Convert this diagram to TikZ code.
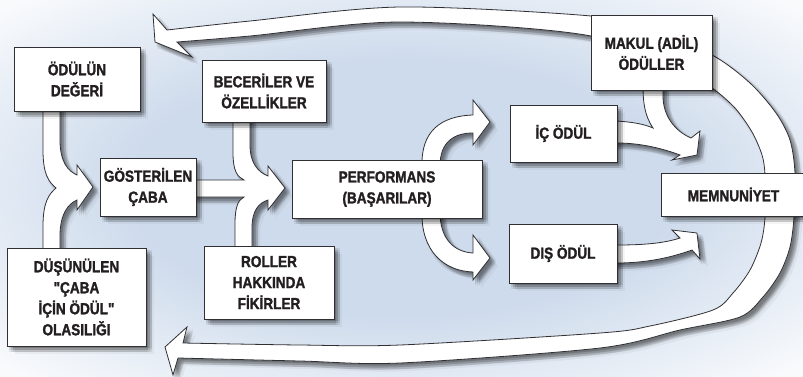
\documentclass[tikz,border=0pt]{standalone}
\usepackage{fontspec}
\newfontfamily\lblfont[FakeStretch=0.85,FakeBold=1.5]{Liberation Sans Bold}
\usetikzlibrary{shadows}
\definecolor{bgblue}{RGB}{206,219,236}
\definecolor{edgecol}{RGB}{48,48,52}
\definecolor{txtcol}{RGB}{35,31,32}
\pgfdeclareradialshading{bgshade}{\pgfpoint{0bp}{0bp}}{color(0bp)=(bgblue); color(17bp)=(bgblue); color(34bp)=(white!85!bgblue); color(50bp)=(white)}
\tikzset{
  softshadow/.style={
    general shadow={fill=black,opacity=.065,shadow xshift=2pt,shadow yshift=-2pt},
    general shadow={fill=black,opacity=.065,shadow xshift=4pt,shadow yshift=-2pt},
    general shadow={fill=black,opacity=.065,shadow xshift=6pt,shadow yshift=-2pt},
    general shadow={fill=black,opacity=.065,shadow xshift=2pt,shadow yshift=-4pt},
    general shadow={fill=black,opacity=.065,shadow xshift=4pt,shadow yshift=-4pt},
    general shadow={fill=black,opacity=.065,shadow xshift=6pt,shadow yshift=-4pt},
    general shadow={fill=black,opacity=.065,shadow xshift=2pt,shadow yshift=-6pt},
    general shadow={fill=black,opacity=.065,shadow xshift=4pt,shadow yshift=-6pt},
    general shadow={fill=black,opacity=.065,shadow xshift=6pt,shadow yshift=-6pt},
    general shadow={fill=black,opacity=.04,shadow xshift=8pt,shadow yshift=-8pt}
  },
  whiteshape/.style={fill=white,draw=edgecol,line width=0.8pt,line join=miter,softshadow},
  labelbox/.style={whiteshape,rectangle,inner sep=0pt,align=center,text=txtcol,
    font=\lblfont\fontsize{16pt}{21pt}\selectfont}
}
\begin{document}
\begin{tikzpicture}[x=1pt,y=-1pt]
\useasboundingbox (0,0) rectangle (803,376);
\clip (0,0) rectangle (803,376);
\shade[shading=bgshade] (0,0) rectangle (803,376);

% big feedback ring
\draw[whiteshape] (167,30) -- (153,14) -- (155,42) -- (192,57) -- (177,42)
  -- plot[smooth,tension=0.5] coordinates {(177,42) (250,36) (400,22) (591,36) (690,78) (712,88) (735,108) (752,132) (762,155) (765,175) (765,217) (761,243) (750,270) (733,293) (713,310) (650,326) (600,333) (400,345) (300,345) (183,343)}
  -- (187,327) -- (165,347) -- (173,375) -- (178,358)
  -- plot[smooth,tension=0.5] coordinates {(178,358) (300,361) (400,363) (600,348) (680,330) (740,317) (763,297) (780,273) (790,247) (794,217) (795,173) (790,140) (776,113) (750,83) (712,55) (650,30) (591,16) (400,7) (250,21) (167,30)}
  -- cycle;

% effort value + probability -> effort
\draw[whiteshape] (43,105) -- (43,150) .. controls (43,175) and (49,182) .. (56,188)
  .. controls (49,194) and (43,202) .. (43,226) -- (43,255) -- (60,255) -- (60,236)
  .. controls (60,214) and (68,204) .. (77,200) -- (77,210) -- (93,187) -- (77,165) -- (77,175)
  .. controls (68,171) and (60,162) .. (60,140) -- (60,105) -- cycle;

% effort + abilities + roles -> performance
\draw[whiteshape] (233,115) -- (233,153) .. controls (233,170) and (237,177) .. (244,180)
  -- (190,180) -- (190,197) -- (244,197) .. controls (238,200) and (235,207) .. (235,224)
  -- (235,252) -- (252,252) -- (252,228) .. controls (252,210) and (259,203) .. (268,200)
  -- (268,210) -- (285,188) -- (268,166) -- (268,176)
  .. controls (258,172) and (250,163) .. (250,145) -- (250,115) -- cycle;

% performance -> intrinsic
\draw[whiteshape] (422,166) .. controls (421,132) and (440,116) .. (473,115)
  -- (473,100) -- (490,122) -- (473,145) -- (473,133)
  .. controls (455,133) and (440,141) .. (440,166) -- cycle;

% performance -> extrinsic
\draw[whiteshape] (422,212) .. controls (421,250) and (443,271) .. (473,272)
  -- (473,280) -- (490,258) -- (473,235) -- (473,253)
  .. controls (455,252) and (440,240) .. (440,212) -- cycle;

% intrinsic + equitable -> satisfaction
\draw[whiteshape] (610,121) -- (617,121) .. controls (632,122) and (644,124) .. (653,128)
  .. controls (645,116) and (643,104) .. (643,85) -- (663,85) -- (663,96)
  .. controls (663,116) and (675,131) .. (691,138) -- (700,131) -- (697,155) -- (672,160) -- (680,155)
  .. controls (661,148) and (640,143) .. (617,143) -- (610,143) -- cycle;

% extrinsic -> satisfaction
\draw[whiteshape] (610,245) -- (617,245) .. controls (645,245) and (665,243) .. (680,238)
  -- (672,230) -- (697,233) -- (700,259) -- (692,250)
  .. controls (670,258) and (645,263) .. (617,263) -- (610,263) -- cycle;

% boxes
\node[labelbox,minimum width=126pt,minimum height=64pt] (odul) at (77,79) {ÖDÜLÜN\\DEĞERİ};
\node[labelbox,minimum width=124pt,minimum height=62pt] (beceri) at (264,91) {BECERİLER VE\\ÖZELLİKLER};
\node[labelbox,minimum width=96pt,minimum height=58pt] (caba) at (148,187) {GÖSTERİLEN\\ÇABA};
\node[labelbox,minimum width=190pt,minimum height=58pt] (perf) at (387,189) {PERFORMANS\\(BAŞARILAR)};
\node[labelbox,minimum width=139pt,minimum height=98pt] (olas) at (76.5,297) {DÜŞÜNÜLEN\\"ÇABA\\İÇİN ÖDÜL"\\OLASILIĞI};
\node[labelbox,minimum width=130pt,minimum height=73pt] (roller) at (269,282.5) {ROLLER\\HAKKINDA\\FİKİRLER};
\node[labelbox,minimum width=121pt,minimum height=75pt] (makul) at (651.5,52.5) {MAKUL (ADİL)\\ÖDÜLLER};
\node[labelbox,minimum width=107pt,minimum height=57pt] (ic) at (563.5,133.5) {İÇ ÖDÜL};
\node[labelbox,minimum width=145pt,minimum height=43pt] (memn) at (733.5,194.5) {MEMNUNİYET};
\node[labelbox,minimum width=108pt,minimum height=59pt] (dis) at (563,253.5) {DIŞ ÖDÜL};
\end{tikzpicture}
\end{document}
